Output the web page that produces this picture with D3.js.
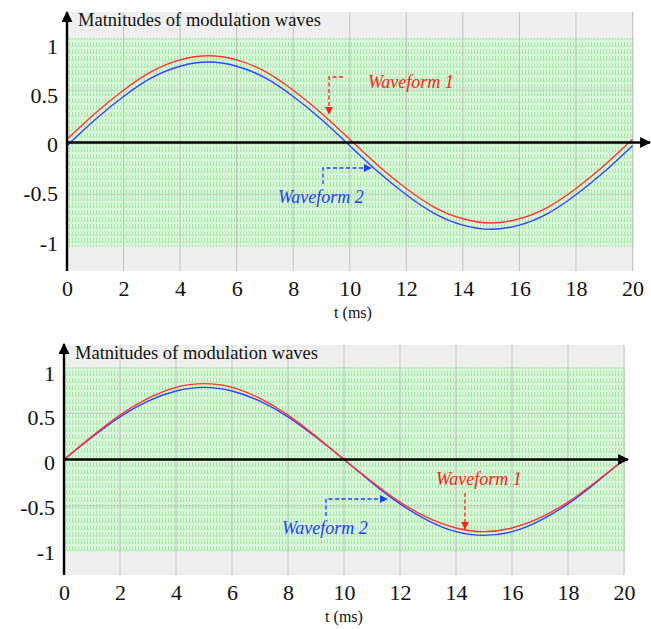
<!DOCTYPE html>
<html>
<head>
<meta charset="utf-8">
<script src="https://cdn.jsdelivr.net/npm/d3@7"></script>
<style>
  html, body { margin: 0; padding: 0; background: #fff; }
  svg { display: block; }
  text { font-family: "Liberation Serif", "Times New Roman", serif; }
</style>
</head>
<body>
<svg id="chart" width="651" height="629"></svg>
<script>
// Time samples (ms) shared by both panels
const timeMs = [0,1,2,3,4,5,6,7,8,9,10,11,12,13,14,15,16,17,18,19,20];
const xTicks = [0,2,4,6,8,10,12,14,16,18,20];
const yTicks = [-1,-0.5,0,0.5,1];
const yTickLabels = ["-1","-0.5","0","0.5","1"];

// Upper panel: modulation waves with opposite DC offsets
const topWave1 = [0.03,0.28,0.50,0.68,0.79,0.83,0.79,0.68,0.50,0.28,0.03,-0.22,-0.44,-0.62,-0.73,-0.77,-0.73,-0.62,-0.44,-0.22,0.03];
const topWave2 = [-0.03,0.22,0.44,0.62,0.73,0.77,0.73,0.62,0.44,0.22,-0.03,-0.28,-0.50,-0.68,-0.79,-0.83,-0.79,-0.68,-0.50,-0.28,-0.03];

// Lower panel: nearly coincident modulation waves
const bottomWave1 = [0,0.25,0.48,0.66,0.78,0.82,0.78,0.66,0.48,0.25,0,-0.24,-0.46,-0.63,-0.74,-0.78,-0.74,-0.63,-0.46,-0.24,0];
const bottomWave2 = [0,0.24,0.46,0.63,0.74,0.78,0.74,0.63,0.46,0.24,0,-0.25,-0.48,-0.66,-0.78,-0.82,-0.78,-0.66,-0.48,-0.25,0];

const titleText = "Matnitudes of modulation waves";
const xTitle = "t (ms)";
const seriesNames = ["Waveform 1", "Waveform 2"];

const svg = d3.select("#chart");
const defs = svg.append("defs");

// Carrier texture: dense dashed green verticals
const pat = defs.append("pattern")
  .attr("id", "carrier")
  .attr("patternUnits", "userSpaceOnUse")
  .attr("width", 3).attr("height", 7);
pat.append("rect").attr("width", 3).attr("height", 7).attr("fill", "#e4f8e4");
pat.append("rect").attr("x", 0).attr("y", 0).attr("width", 1.2).attr("height", 5).attr("fill", "#a6e9a6");
pat.append("rect").attr("x", 1.7).attr("y", 3).attr("width", 0.9).attr("height", 4).attr("fill", "#c2f0c2");

function arrowMarker(id, color, size) {
  defs.append("marker")
    .attr("id", id)
    .attr("viewBox", "0 0 10 10")
    .attr("refX", 9).attr("refY", 5)
    .attr("markerUnits", "userSpaceOnUse")
    .attr("markerWidth", size).attr("markerHeight", size)
    .attr("orient", "auto")
    .append("path").attr("d", "M0,0 L10,5 L0,10 Z").attr("fill", color);
}
arrowMarker("axisArrow", "#000", 11);
arrowMarker("redArrow", "#ff2020", 8);
arrowMarker("blueArrow", "#2040ff", 8);

function drawPanel(p) {
  const x = d3.scaleLinear().domain([0, 20]).range([p.left, p.right]);
  const y = d3.scaleLinear().domain([-1, 1]).range([p.yMinus1, p.yPlus1]);
  const g = svg.append("g");

  // Grey frame and carrier band
  g.append("rect")
    .attr("x", x(0)).attr("y", p.frameTop)
    .attr("width", x(20) - x(0) + 1).attr("height", p.frameBottom - p.frameTop)
    .attr("fill", "#efefef");
  g.append("rect")
    .attr("x", x(0)).attr("y", y(1))
    .attr("width", x(20) - x(0) + 1).attr("height", y(-1) - y(1))
    .attr("fill", "url(#carrier)");

  // Grid
  g.append("g").selectAll("line").data(xTicks).join("line")
    .attr("x1", d => x(d)).attr("x2", d => x(d))
    .attr("y1", p.frameTop).attr("y2", p.frameBottom)
    .attr("stroke", "#b8b8b8").attr("stroke-width", 1).attr("opacity", 0.8);
  g.append("g").selectAll("line").data([-0.5, 0.5]).join("line")
    .attr("x1", x(0)).attr("x2", x(20))
    .attr("y1", d => y(d)).attr("y2", d => y(d))
    .attr("stroke", "#b8b8b8").attr("stroke-width", 1).attr("opacity", 0.7);

  // Waves
  const line = d3.line().x((d, i) => x(timeMs[i])).y(d => y(d)).curve(d3.curveNatural);
  g.append("path").datum(p.wave2).attr("d", line)
    .attr("fill", "none").attr("stroke", "#3344ff").attr("stroke-width", 1.4);
  g.append("path").datum(p.wave1).attr("d", line)
    .attr("fill", "none").attr("stroke", "#ff3333").attr("stroke-width", 1.4);

  // Axes lines with arrows
  g.append("line")
    .attr("x1", x(0)).attr("x2", p.xArrowTip)
    .attr("y1", y(0)).attr("y2", y(0))
    .attr("stroke", "#000").attr("stroke-width", 2.4)
    .attr("marker-end", "url(#axisArrow)");
  g.append("line")
    .attr("x1", x(0)).attr("x2", x(0))
    .attr("y1", p.frameBottom).attr("y2", p.yArrowTip)
    .attr("stroke", "#000").attr("stroke-width", 2.4)
    .attr("marker-end", "url(#axisArrow)");

  // Tick labels
  const yAxis = d3.axisLeft(y).tickValues(yTicks).tickSize(0).tickPadding(0)
    .tickFormat((d, i) => yTickLabels[i]);
  const ya = g.append("g").attr("transform", `translate(${x(0) - 9},0)`).call(yAxis);
  ya.select(".domain").remove();
  ya.selectAll("text")
    .attr("font-size", 22).attr("fill", "#111")
    .attr("dy", d => (0.32 * 22 + p.labelShift(d)) + "px");

  const xAxis = d3.axisBottom(x).tickValues(xTicks).tickSize(0).tickPadding(0);
  const xa = g.append("g").attr("transform", `translate(0,${p.frameBottom + 13})`).call(xAxis);
  xa.select(".domain").remove();
  xa.selectAll("text")
    .attr("font-size", 22).attr("fill", "#111")
    .attr("dy", "0.55em");

  g.append("text")
    .attr("x", p.xTitleX).attr("y", p.frameBottom + 47)
    .attr("text-anchor", "middle").attr("font-size", 16).attr("fill", "#111")
    .text(xTitle);

  g.append("text")
    .attr("x", x(0) + 11).attr("y", p.frameTop + 14)
    .attr("font-size", 18.5).attr("fill", "#111")
    .text(titleText);

  // Annotations
  p.notes.forEach(n => {
    g.append("text")
      .attr("x", n.tx).attr("y", n.ty)
      .attr("font-size", 18).attr("font-style", "italic")
      .attr("fill", n.color)
      .text(n.label);
    g.append("path")
      .attr("d", d3.line()(n.path))
      .attr("fill", "none").attr("stroke", n.color).attr("stroke-width", 1.3)
      .attr("stroke-dasharray", "4,2.5")
      .attr("marker-end", `url(#${n.marker})`);
  });
}

drawPanel({
  left: 67, right: 632.5, yPlus1: 38, yMinus1: 247,
  frameTop: 12, frameBottom: 271,
  xArrowTip: 650, yArrowTip: 12, xTitleX: 353,
  wave1: topWave1, wave2: topWave2,
  labelShift: v => 2 + 6 * v,
  notes: [
    { label: seriesNames[0], color: "#ff2020", marker: "redArrow", tx: 368, ty: 88,
      path: [[343, 77], [329, 77], [329, 114]] },
    { label: seriesNames[1], color: "#2040ff", marker: "blueArrow", tx: 278, ty: 203,
      path: [[323, 184], [323, 168], [371, 168]] }
  ]
});

drawPanel({
  left: 64, right: 624, yPlus1: 367, yMinus1: 552,
  frameTop: 345, frameBottom: 575,
  xArrowTip: 628, yArrowTip: 344, xTitleX: 344,
  wave1: bottomWave1, wave2: bottomWave2,
  labelShift: v => 3 + 3 * v,
  notes: [
    { label: seriesNames[0], color: "#ff2020", marker: "redArrow", tx: 436, ty: 485,
      path: [[465, 493], [465, 529]] },
    { label: seriesNames[1], color: "#2040ff", marker: "blueArrow", tx: 282, ty: 534,
      path: [[326, 516], [326, 499], [387, 499]] }
  ]
});
</script>
</body>
</html>
